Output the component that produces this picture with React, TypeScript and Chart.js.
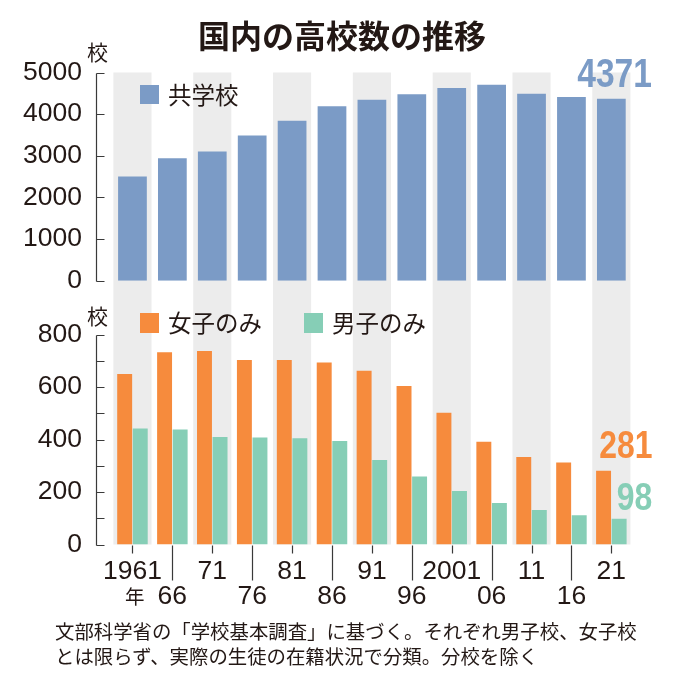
import React, { useEffect, useRef } from 'react';
import { Chart, registerables } from 'chart.js';

Chart.register(...registerables);

// ---- data ----
const years = ['1961', '66', '71', '76', '81', '86', '91', '96', '2001', '06', '11', '16', '21'];
const tickRow1 = ['1961', '', '71', '', '81', '', '91', '', '2001', '', '11', '', '21'];
const tickRow2 = ['', '66', '', '76', '', '86', '', '96', '', '06', '', '16', ''];
const coed = [2500, 2940, 3100, 3490, 3840, 4190, 4345, 4475, 4630, 4705, 4490, 4410, 4371];
const girlsOnly = [650, 732, 737, 703, 703, 693, 662, 604, 502, 391, 333, 312, 281];
const boysOnly = [442, 438, 410, 408, 405, 394, 322, 259, 204, 158, 131, 111, 98];
const coedMax = 5000;
const coedStep = 1000;
const singleMax = 800;
const singleStep = 100;
const singleLabelStep = 200;

// ---- styles ----
const BLUE = '#7b9bc6';
const ORANGE = '#f68b3d';
const TEAL = '#86ceb6';
const BAND = '#ececec';
const INK = '#231815';
const AXIS = '#3a3a3a';
const NUM_FONT = "'Liberation Sans', Arial, sans-serif";
const JP_FONT = "'Noto Sans CJK JP', 'Noto Sans', sans-serif";

const bandPlugin = (mode: 'top' | 'bottom') => ({
  id: 'bands',
  beforeDatasetsDraw(chart: any) {
    const { ctx, chartArea, scales } = chart;
    const x = scales.x;
    const w = (x.getPixelForValue(1) - x.getPixelForValue(0)) * 0.955;
    const top = mode === 'top' ? chartArea.top : 0;
    const bottom = mode === 'top' ? chart.height : chartArea.bottom;
    ctx.save();
    ctx.fillStyle = BAND;
    for (let i = 0; i < years.length; i += 2) {
      const cx = x.getPixelForValue(i);
      ctx.fillRect(cx - w / 2, top, w, bottom - top);
    }
    ctx.restore();
  },
});

const axisPlugin = (withXTicks: boolean) => ({
  id: 'axisLines',
  afterDraw(chart: any) {
    const { ctx, chartArea, scales } = chart;
    const y = scales.y;
    const x = scales.x;
    const ax = Math.round(chartArea.left - 17) + 0.5;
    ctx.save();
    ctx.strokeStyle = AXIS;
    ctx.lineWidth = 1.2;
    ctx.beginPath();
    const yTop = Math.round(y.getPixelForValue(y.max)) + 0.5;
    const yBot = Math.round(y.getPixelForValue(y.min)) + 0.5;
    ctx.moveTo(ax, yTop);
    ctx.lineTo(ax, yBot);
    y.ticks.forEach((t: any) => {
      const py = Math.round(y.getPixelForValue(t.value)) + 0.5;
      ctx.moveTo(ax, py);
      ctx.lineTo(ax + 8, py);
    });
    if (withXTicks) {
      for (let i = 0; i < years.length; i++) {
        const px = Math.round(x.getPixelForValue(i)) + 0.5;
        ctx.moveTo(px, chartArea.bottom + 1);
        ctx.lineTo(px, chartArea.bottom + (i % 2 === 1 ? 36 : 9));
      }
    }
    ctx.stroke();
    ctx.restore();
  },
});

const yScaleBase = (max: number, step: number, labelStep: number) => ({
  min: 0,
  max,
  ticks: {
    stepSize: step,
    autoSkip: false,
    padding: 0.5,
    color: INK,
    font: { family: NUM_FONT, size: 26.5 },
    callback: (v: any) => (Number(v) % labelStep === 0 ? String(v) : ''),
  },
  grid: { display: false, drawTicks: true, tickLength: 30 },
  border: { display: false },
  afterFit: (s: any) => {
    s.width = 112.5;
  },
});

export default function App() {
  const topRef = useRef<HTMLCanvasElement>(null);
  const botRef = useRef<HTMLCanvasElement>(null);

  useEffect(() => {
    document.body.style.margin = '0';
    const topChart = new Chart(topRef.current as HTMLCanvasElement, {
      type: 'bar',
      data: {
        labels: years,
        datasets: [
          {
            label: '共学校',
            data: coed,
            backgroundColor: BLUE,
            borderWidth: 0,
            barPercentage: 0.72,
            categoryPercentage: 1,
          },
        ],
      },
      options: {
        responsive: false,
        animation: false,
        devicePixelRatio: 1,
        layout: { padding: { left: 0, right: 46.7, top: 72.5, bottom: 19.3 } },
        plugins: { legend: { display: false }, tooltip: { enabled: false } },
        scales: {
          x: {
            display: false,
            offset: true,
            ticks: { display: false },
            grid: { display: false, drawTicks: false },
            afterFit: (s: any) => {
              s.height = 0;
            },
          },
          y: yScaleBase(coedMax, coedStep, coedStep),
        },
      } as any,
      plugins: [bandPlugin('top'), axisPlugin(false)],
    });

    const botChart = new Chart(botRef.current as HTMLCanvasElement, {
      type: 'bar',
      data: {
        labels: years,
        datasets: [
          {
            label: '女子のみ',
            data: girlsOnly,
            backgroundColor: ORANGE,
            borderWidth: 0,
            barPercentage: 0.96,
            categoryPercentage: 0.78,
          },
          {
            label: '男子のみ',
            data: boysOnly,
            backgroundColor: TEAL,
            borderWidth: 0,
            barPercentage: 0.96,
            categoryPercentage: 0.78,
          },
        ],
      },
      options: {
        responsive: false,
        animation: false,
        devicePixelRatio: 1,
        layout: { padding: { left: 0, right: 46.7, top: 34.5, bottom: 0 } },
        plugins: { legend: { display: false }, tooltip: { enabled: false } },
        scales: {
          x: {
            offset: true,
            grid: { display: false, drawTicks: false },
            border: { display: false },
            ticks: {
              autoSkip: false,
              maxRotation: 0,
              minRotation: 0,
              padding: 15,
              color: INK,
              font: { family: NUM_FONT, size: 26.5, lineHeight: '25px' },
              callback: (_v: any, i: number) => [tickRow1[i], tickRow2[i]],
            },
            afterFit: (s: any) => {
              s.height = 135.5;
            },
          },
          y: yScaleBase(singleMax, singleStep, singleLabelStep),
        },
      } as any,
      plugins: [bandPlugin('bottom'), axisPlugin(true)],
    });

    return () => {
      topChart.destroy();
      botChart.destroy();
    };
  }, []);

  const abs = (style: React.CSSProperties): React.CSSProperties => ({
    position: 'absolute',
    whiteSpace: 'nowrap',
    ...style,
  });

  const bigNum = (top: number, size: number, color: string): React.CSSProperties =>
    abs({
      right: 26,
      top,
      fontFamily: NUM_FONT,
      fontWeight: 700,
      fontSize: size,
      lineHeight: `${size}px`,
      color,
      transform: 'scaleX(0.84)',
      transformOrigin: 'right top',
    });

  return (
    <div
      style={{
        position: 'absolute',
        left: 0,
        top: 0,
        width: 678,
        height: 680,
        background: '#fff',
        overflow: 'hidden',
        color: INK,
        fontFamily: JP_FONT,
      }}
    >
      <canvas ref={topRef} width={678} height={300} style={{ position: 'absolute', left: 0, top: 0 }} />
      <canvas ref={botRef} width={678} height={380} style={{ position: 'absolute', left: 0, top: 300 }} />

      <div style={abs({ left: 3, top: 18, width: 678, textAlign: 'center', fontSize: 32, lineHeight: '32px', fontWeight: 700 })}>
        国内の高校数の推移
      </div>

      <div style={abs({ left: 87, top: 41, fontSize: 21, lineHeight: '21px' })}>校</div>
      <div style={abs({ left: 87, top: 305, fontSize: 21, lineHeight: '21px' })}>校</div>

      <div style={abs({ left: 140, top: 85, width: 19, height: 19, background: BLUE })} />
      <div style={abs({ left: 168, top: 83, fontSize: 23.5, lineHeight: '23.5px' })}>共学校</div>

      <div style={abs({ left: 140, top: 313, width: 19, height: 20, background: ORANGE })} />
      <div style={abs({ left: 168, top: 311, fontSize: 23.5, lineHeight: '23.5px' })}>女子のみ</div>
      <div style={abs({ left: 304, top: 313, width: 19, height: 20, background: TEAL })} />
      <div style={abs({ left: 332, top: 311, fontSize: 23.5, lineHeight: '23.5px' })}>男子のみ</div>

      <div style={bigNum(53, 40, BLUE)}>4371</div>
      <div style={bigNum(426, 38, ORANGE)}>281</div>
      <div style={bigNum(478, 38, TEAL)}>98</div>

      <div style={abs({ left: 125, top: 585.5, fontSize: 19.5, lineHeight: '19.5px' })}>年</div>

      <div style={abs({ left: 55, top: 618, fontSize: 19.4, lineHeight: '25px' })}>
        文部科学省の「学校基本調査」に基づく。それぞれ男子校、女子校
        <br />
        とは限らず、実際の生徒の在籍状況で分類。分校を除く
      </div>
    </div>
  );
}
